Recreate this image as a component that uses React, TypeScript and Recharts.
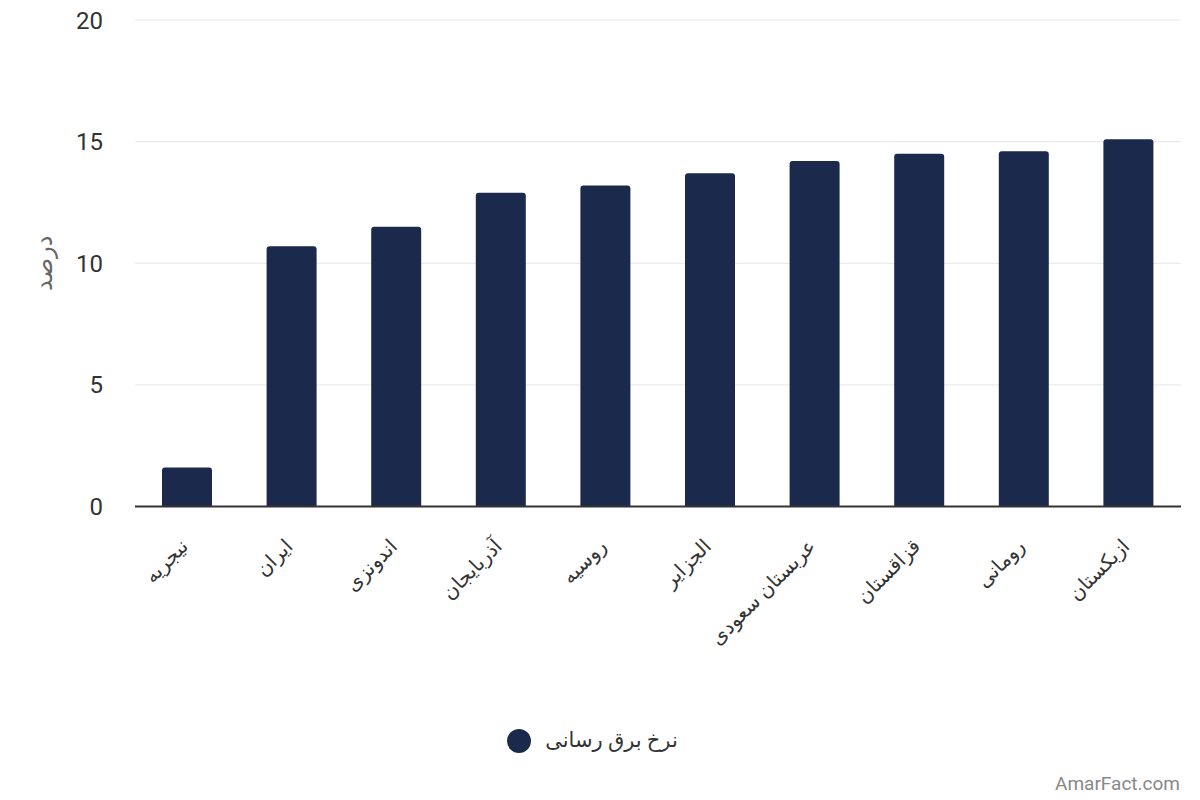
import { BarChart, Bar, XAxis, YAxis, CartesianGrid, Legend } from 'recharts';

const countries = [
  'نیجریه',
  'ایران',
  'اندونزی',
  'آذربایجان',
  'روسیه',
  'الجزایر',
  'عربستان سعودی',
  'قزاقستان',
  'رومانی',
  'ازبکستان',
];
const rates = [1.6, 10.7, 11.5, 12.9, 13.2, 13.7, 14.2, 14.5, 14.6, 15.1];
const yTicks = [0, 5, 10, 15, 20];

const seriesName = 'نرخ برق رسانی';
const yLabel = 'درصد';
const barColor = '#1b2a4c';

const data = countries.map((name, i) => ({ name, rate: rates[i] }));

const font = "Roboto, 'DejaVu Sans', sans-serif";

const App = () => {
  return (
    <div
      style={{
        position: 'absolute',
        left: 0,
        top: 0,
        width: 1200,
        height: 800,
        background: '#fff',
        fontFamily: font,
      }}
    >
      <BarChart
        width={1200}
        height={800}
        data={data}
        margin={{ top: 20, right: 19, bottom: 47, left: 0 }}
      >
        <CartesianGrid vertical={false} stroke="#e6e6e6" />
        <XAxis
          dataKey="name"
          interval={0}
          angle={-45}
          textAnchor="end"
          height={221}
          tickLine={false}
          tickSize={0}
          tickMargin={31}
          axisLine={{ stroke: '#333', strokeWidth: 2 }}
          tick={{ fill: '#333', fontSize: 20, fontFamily: font, dx: -8 }}
        />
        <YAxis
          width={135}
          domain={[0, 20]}
          ticks={yTicks}
          tickLine={false}
          axisLine={false}
          tickSize={0}
          tickMargin={32}
          tick={{ fill: '#333', fontSize: 24, fontFamily: font }}
          label={{
            value: yLabel,
            angle: -90,
            position: 'insideLeft',
            offset: 43,
            style: { fill: '#666', fontSize: 24, fontFamily: font, textAnchor: 'middle' },
          }}
        />
        <Legend
          verticalAlign="bottom"
          iconType="circle"
          iconSize={24}
          wrapperStyle={{ fontSize: 21, color: '#333', fontFamily: font, paddingLeft: 7 }}
          formatter={(value) => (
            <span style={{ color: '#333', marginLeft: 10 }}>{value}</span>
          )}
        />
        <Bar
          dataKey="rate"
          name={seriesName}
          fill={barColor}
          barSize={50}
          radius={[3, 3, 0, 0]}
          isAnimationActive={false}
        />
      </BarChart>
      <div
        style={{
          position: 'absolute',
          right: 20,
          top: 772,
          fontSize: 19,
          color: '#888',
          fontFamily: font,
        }}
      >
        AmarFact.com
      </div>
    </div>
  );
};

export default App;
